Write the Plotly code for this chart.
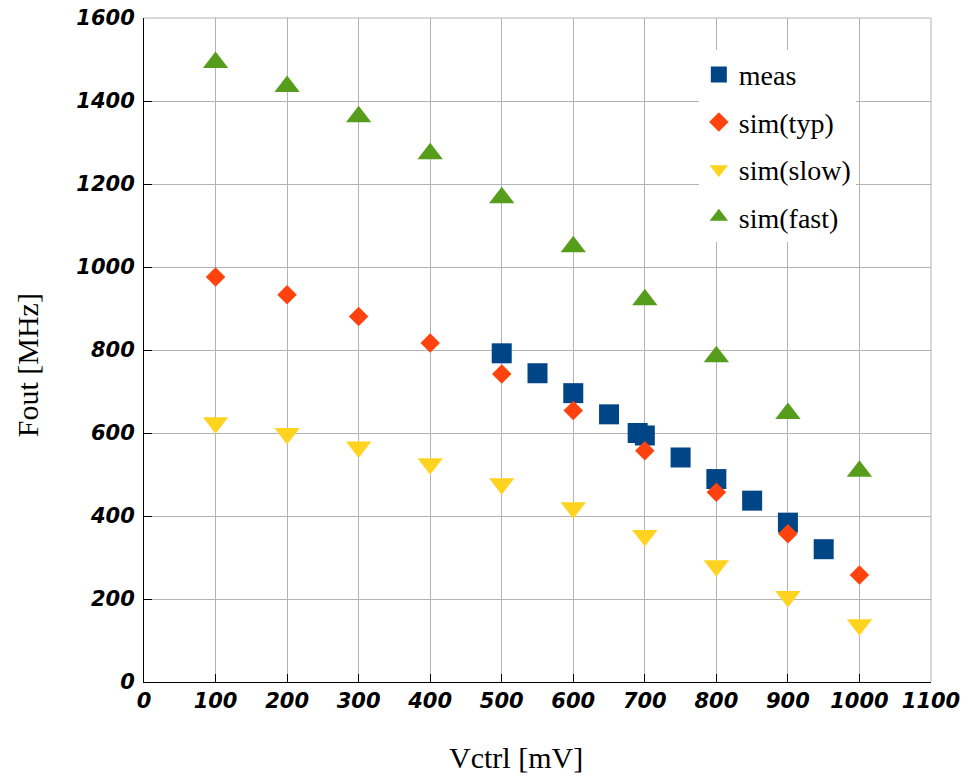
import plotly.graph_objects as go

vctrl_meas = [500, 550, 600, 650, 690, 700, 750, 800, 850, 900, 950]
fout_meas = [792, 744, 696, 645, 600, 594, 541, 489, 437, 384, 320]

vctrl_sim = [100, 200, 300, 400, 500, 600, 700, 800, 900, 1000]
fout_typ = [976, 933, 881, 817, 742, 654, 557, 457, 357, 258]
fout_slow = [625, 599, 566, 526, 478, 420, 353, 280, 206, 138]
fout_fast = [1493, 1435, 1362, 1273, 1167, 1049, 921, 784, 647, 508]

x_ticks = list(range(0, 1101, 100))
y_ticks = list(range(0, 1601, 200))

x_title = "Vctrl [mV]"
y_title = "Fout [MHz]"

fig = go.Figure()
fig.add_trace(go.Scatter(x=vctrl_meas, y=fout_meas, mode="markers", name="meas",
                         legendgroup="a",
                         marker=dict(symbol="square", size=20, color="#004586")))
fig.add_trace(go.Scatter(x=vctrl_sim, y=fout_typ, mode="markers", name="sim(typ)",
                         legendgroup="b",
                         marker=dict(symbol="diamond", size=15, color="#ff420e")))
fig.add_trace(go.Scatter(x=vctrl_sim, y=fout_slow, mode="markers", name="sim(slow)",
                         legendgroup="c",
                         marker=dict(symbol="triangle-down", size=22, color="#ffd320")))
fig.add_trace(go.Scatter(x=vctrl_sim, y=fout_fast, mode="markers", name="sim(fast)",
                         legendgroup="d",
                         marker=dict(symbol="triangle-up", size=22, color="#579d1c")))

tickfont = dict(family="DejaVu Sans", size=21, color="black")
titlefont = dict(family="Liberation Serif", size=30, color="black")

def fmt(v):
    return "<b><i>%d</i></b>" % v

fig.update_layout(
    width=952, height=767,
    margin=dict(l=136, r=29, t=10, b=93, autoexpand=False),
    paper_bgcolor="white", plot_bgcolor="white",
    showlegend=True,
    legend=dict(x=0.705, y=0.952, xanchor="left", yanchor="top",
                bgcolor="white", borderwidth=0,
                font=dict(family="Liberation Serif", size=28, color="black"),
                tracegroupgap=8, itemsizing="trace"),
    xaxis=dict(range=[0, 1100], tickvals=x_ticks, ticktext=[fmt(v) for v in x_ticks],
               showgrid=True, gridcolor="#b3b3b3", gridwidth=1, zeroline=False,
               showline=True, linecolor="black", linewidth=1,
               ticks="inside", ticklen=8, tickcolor="black",
               tickfont=tickfont, automargin=False, ticklabeloverflow="allow"),
    yaxis=dict(range=[0, 1600], tickvals=y_ticks, ticktext=[fmt(v) for v in y_ticks],
               showgrid=True, gridcolor="#b3b3b3", gridwidth=1, zeroline=False,
               showline=True, linecolor="black", linewidth=1,
               ticks="inside", ticklen=8, tickcolor="black",
               tickfont=tickfont, ticklabelstandoff=4, automargin=False,
               ticklabeloverflow="allow"),
    shapes=[
        dict(type="line", xref="paper", yref="paper", x0=0, x1=1, y0=1, y1=1,
             line=dict(color="#b3b3b3", width=1), layer="below"),
        dict(type="line", xref="paper", yref="paper", x0=1, x1=1, y0=0, y1=1,
             line=dict(color="#b3b3b3", width=1), layer="below"),
    ],
    annotations=[
        dict(text=x_title, xref="paper", yref="paper", x=0.4727, y=0,
             xanchor="center", yanchor="middle", yshift=-75, showarrow=False,
             font=titlefont),
        dict(text=y_title, xref="paper", yref="paper", x=0, y=0.477,
             xanchor="center", yanchor="middle", xshift=-117, textangle=-90,
             showarrow=False, font=titlefont),
    ],
)

fig.write_html("out.html")
